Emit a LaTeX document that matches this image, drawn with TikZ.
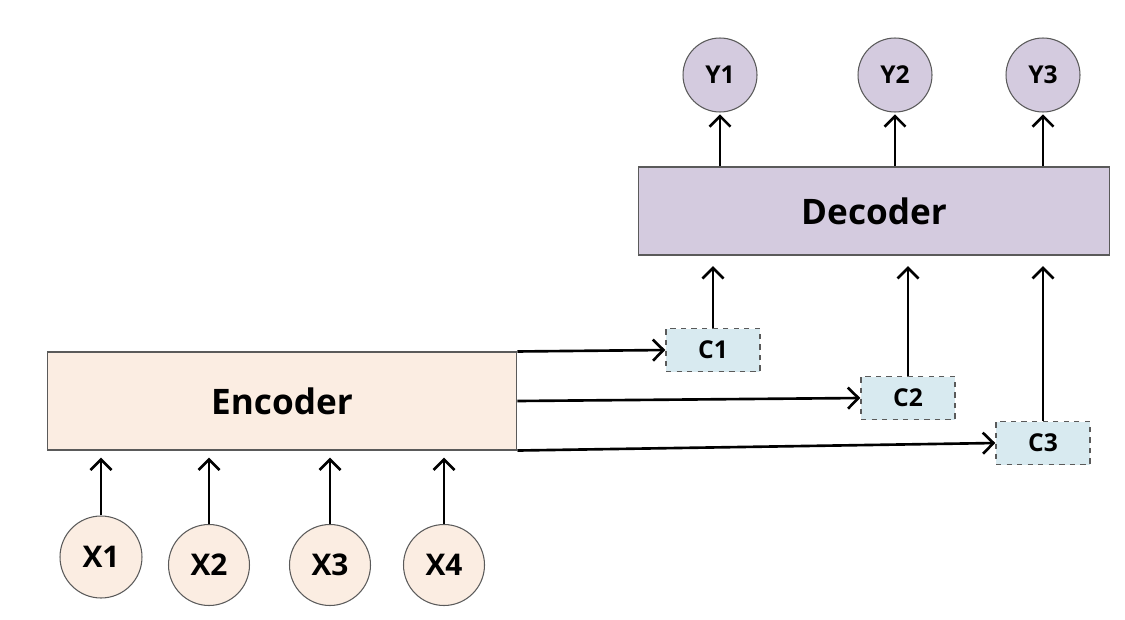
\documentclass[tikz,border=0pt]{standalone}
\usepackage{fontspec}
\setmainfont{Open Sans}
\usepackage{xcolor}
\usepackage{tikz}
\usetikzlibrary{arrows.meta}
\definecolor{encfill}{HTML}{FBEDE2}
\definecolor{decfill}{HTML}{D4CBDF}
\definecolor{ctxfill}{HTML}{D8EAF0}
\definecolor{edge}{HTML}{5A5A5A}

\begin{document}
\begin{tikzpicture}[
        x=0.02cm, y=-0.02cm,
        block/.style={
            rectangle,
            draw=edge,
            line width=0.6pt,
            font=\bfseries\fontsize{20}{24}\selectfont
        },
        token/.style={
            circle,
            draw=edge,
            line width=0.6pt,
            inner sep=0pt
        },
        ctx/.style={
            rectangle,
            draw=edge,
            fill=ctxfill,
            dashed,
            line width=0.8pt,
            minimum width=1.88cm,
            minimum height=0.86cm,
            font=\bfseries\fontsize{14}{16}\selectfont
        },
        flow/.style={
            line width=1.5pt,
            -{Straight Barb[length=6pt,width=12pt]}
        }
    ]
        \useasboundingbox (0,0) rectangle (1125,619);

        % Encoder
        \node[block, fill=encfill, minimum width=9.4cm, minimum height=1.96cm] (enc) at (282,401) {Encoder};
        \node[token, fill=encfill, minimum size=1.64cm, font=\bfseries\fontsize{17}{20}\selectfont] (x1) at (101,557) {X1};
        \node[token, fill=encfill, minimum size=1.62cm, font=\bfseries\fontsize{17}{20}\selectfont] (x2) at (209,565) {X2};
        \node[token, fill=encfill, minimum size=1.62cm, font=\bfseries\fontsize{17}{20}\selectfont] (x3) at (330,565) {X3};
        \node[token, fill=encfill, minimum size=1.62cm, font=\bfseries\fontsize{17}{20}\selectfont] (x4) at (444,565) {X4};

        % Decoder
        \node[block, fill=decfill, minimum width=9.44cm, minimum height=1.76cm] (dec) at (874,211) {Decoder};
        \node[token, fill=decfill, minimum size=1.48cm, font=\bfseries\fontsize{14}{16}\selectfont] (y1) at (720,75) {Y1};
        \node[token, fill=decfill, minimum size=1.48cm, font=\bfseries\fontsize{14}{16}\selectfont] (y2) at (895,75) {Y2};
        \node[token, fill=decfill, minimum size=1.48cm, font=\bfseries\fontsize{14}{16}\selectfont] (y3) at (1043,75) {Y3};

        % context vectors
        \node[ctx] (c1) at (713,350) {C1};
        \node[ctx] (c2) at (908,398) {C2};
        \node[ctx] (c3) at (1043,443) {C3};

        % inputs
        \foreach \n in {x1,x2,x3,x4}
            \draw[flow, shorten >=4pt] (\n.north) -- (\n.north |- enc.south);

        % encoder to contexts
        \draw[flow] (enc.north east) -- (c1.west);
        \draw[flow] (enc.east) -- (c2.west);
        \draw[flow] (enc.south east) -- (c3.west);

        % contexts to decoder
        \foreach \n in {c1,c2,c3}
            \draw[flow, shorten >=6pt] (\n.north) -- (\n.north |- dec.south);

        % outputs
        \foreach \n in {y1,y2,y3}
            \draw[flow, shorten >=1pt] (\n.south |- dec.north) -- (\n.south);
\end{tikzpicture}
\end{document}
